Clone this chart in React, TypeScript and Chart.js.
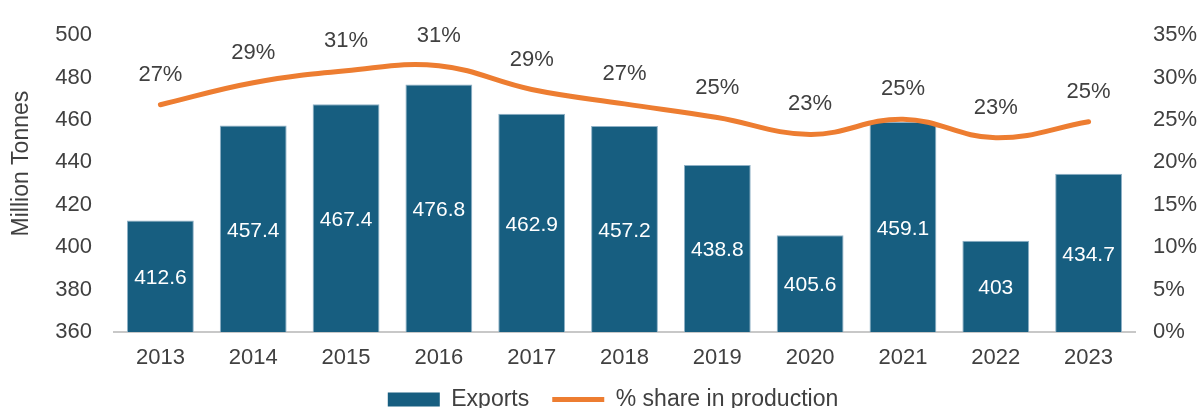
import React, { useEffect, useRef } from "react";
import { Chart, registerables } from "chart.js";

Chart.register(...registerables);

const years = ["2013", "2014", "2015", "2016", "2017", "2018", "2019", "2020", "2021", "2022", "2023"];
const exportsMt = [412.6, 457.4, 467.4, 476.8, 462.9, 457.2, 438.8, 405.6, 459.1, 403, 434.7];
const shareInProduction = [26.8, 29.4, 30.8, 31.4, 28.6, 26.9, 25.3, 23.3, 25.1, 22.9, 24.8];
const leftTicks = { min: 360, max: 500, step: 20 };
const rightTicks = { min: 0, max: 35, step: 5 };
const yTitle = "Million Tonnes";

const FONT = "'Liberation Sans', Arial, sans-serif";
const TEXT = "#404040";
const BAR = "#175E80";
const LINE = "#ED7D31";

const labelPlugin = {
  id: "valueLabels",
  afterDatasetsDraw(chart: any) {
    const ctx = chart.ctx;
    const ys = chart.scales.y;
    ctx.save();
    ctx.textAlign = "center";
    ctx.textBaseline = "middle";
    const barMeta = chart.getDatasetMeta(0);
    ctx.font = `21px ${FONT}`;
    ctx.fillStyle = "#ffffff";
    barMeta.data.forEach((el: any, i: number) => {
      const top = ys.getPixelForValue(exportsMt[i]);
      const bottom = ys.getPixelForValue(leftTicks.min);
      ctx.fillText(String(exportsMt[i]), el.x, (top + bottom) / 2 + 2);
    });
    const lineMeta = chart.getDatasetMeta(1);
    ctx.font = `22px ${FONT}`;
    ctx.fillStyle = TEXT;
    lineMeta.data.forEach((el: any, i: number) => {
      ctx.fillText(Math.round(shareInProduction[i]) + "%", el.x, el.y - 30);
    });
    // axis title
    ctx.save();
    ctx.translate(22, (chart.chartArea.top + chart.chartArea.bottom) / 2 - 20);
    ctx.rotate(-Math.PI / 2);
    ctx.font = `23px ${FONT}`;
    ctx.fillStyle = TEXT;
    ctx.fillText(yTitle, 0, 0);
    ctx.restore();
    ctx.restore();
  },
};

export default function App() {
  const ref = useRef<HTMLCanvasElement | null>(null);
  useEffect(() => {
    document.body.style.margin = "0";
    const canvas = ref.current!;
    const chart = new Chart(canvas, {
      type: "bar",
      data: {
        labels: years,
        datasets: [
          {
            type: "bar",
            label: "Exports",
            data: exportsMt,
            backgroundColor: BAR,
            borderColor: "#8FB1C6",
            borderWidth: 1,
            barPercentage: 0.72,
            categoryPercentage: 1,
            yAxisID: "y",
            order: 2,
          },
          {
            type: "line",
            label: "% share in production",
            data: shareInProduction,
            borderColor: LINE,
            backgroundColor: LINE,
            borderWidth: 5,
            borderCapStyle: "round",
            tension: 0.4,
            pointRadius: 0,
            yAxisID: "y1",
            order: 1,
          },
        ] as any,
      },
      options: {
        animation: false,
        responsive: false,
        maintainAspectRatio: false,
        layout: { padding: { top: 21, left: 22, right: 0, bottom: -13 } },
        plugins: {
          tooltip: { enabled: false },
          legend: {
            position: "bottom",
            labels: {
              usePointStyle: true,
              pointStyleWidth: 52,
              boxWidth: 52,
              boxHeight: 14,
              padding: 23,
              color: TEXT,
              font: { family: FONT, size: 23 },
              sort: (a: any, b: any) => a.datasetIndex - b.datasetIndex,
              generateLabels: (c: any) => {
                const items = (Chart.defaults.plugins.legend.labels as any).generateLabels(c);
                items.forEach((it: any) => {
                  if (it.datasetIndex === 0) {
                    it.pointStyle = "rect";
                    it.lineWidth = 0;
                    it.strokeStyle = BAR;
                  } else {
                    it.pointStyle = "line";
                    it.lineWidth = 5;
                    it.strokeStyle = LINE;
                  }
                });
                return items;
              },
            },
          },
        },
        scales: {
          x: {
            grid: { display: false, drawTicks: false },
            border: { display: true, color: "#C8C8C8", width: 2 },
            ticks: { color: TEXT, font: { family: FONT, size: 22 }, padding: 13 },
            afterFit: (s: any) => {
              s.height = 33;
            },
          },
          y: {
            position: "left",
            min: leftTicks.min,
            max: leftTicks.max,
            ticks: { stepSize: leftTicks.step, color: TEXT, font: { family: FONT, size: 22 }, padding: 22 },
            grid: { display: false, drawTicks: false },
            border: { display: false },
            afterFit: (s: any) => {
              s.width = 92;
            },
          },
          y1: {
            position: "right",
            min: rightTicks.min,
            max: rightTicks.max,
            ticks: {
              stepSize: rightTicks.step,
              color: TEXT,
              font: { family: FONT, size: 22 },
              padding: 18,
              callback: (v: any) => v + "%",
            },
            grid: { display: false, drawTicks: false },
            border: { display: false },
            afterFit: (s: any) => {
              s.width = 69;
            },
          },
        },
      } as any,
      plugins: [labelPlugin],
    });
    return () => chart.destroy();
  }, []);
  return (
    <div style={{ width: 1204, height: 408, position: "relative" }}>
      <canvas ref={ref} width={1204} height={408} style={{ display: "block" }} />
    </div>
  );
}
